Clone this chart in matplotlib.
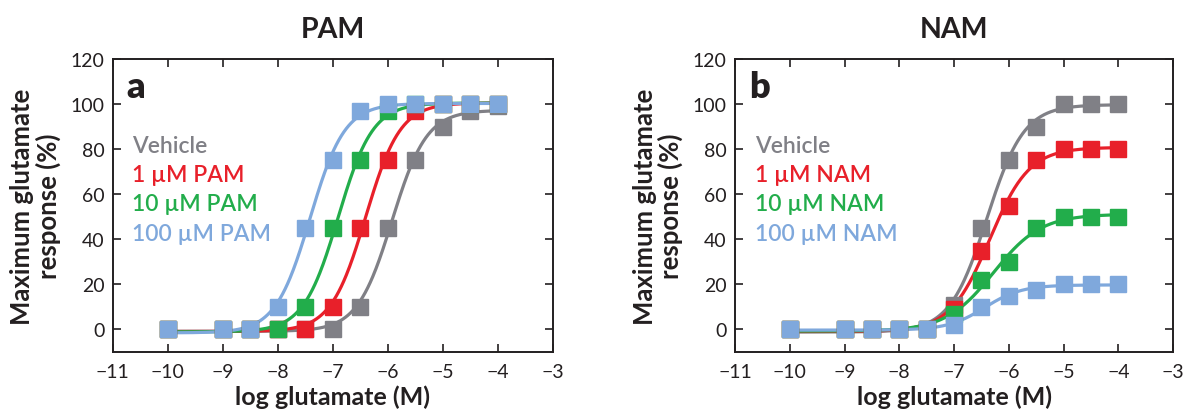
import numpy as np
import matplotlib
matplotlib.use("Agg")
import matplotlib.pyplot as plt

plt.rcParams['font.family'] = ['Lato', 'DejaVu Sans']
plt.rcParams['axes.unicode_minus'] = True

# ---------------- data ----------------
log_glu = [-10, -9, -8.5, -8, -7.5, -7, -6.5, -6, -5.5, -5, -4.5, -4]

pam_labels = ["Vehicle", "1 µM PAM", "10 µM PAM", "100 µM PAM"]
pam_vehicle = [0, 0, 0, 0, 0, 0, 10, 45, 75, 90, 97, 99]
pam_1 = [0, 0, 0, 0, 0, 10, 45, 75, 97, 100, 100, 100]
pam_10 = [0, 0, 0, 0, 10, 45, 75, 97, 100, 100, 100, 100]
pam_100 = [0, 0, 0, 10, 45, 75, 97, 100, 100, 100, 100, 100]

nam_labels = ["Vehicle", "1 µM NAM", "10 µM NAM", "100 µM NAM"]
nam_vehicle = [0, 0, 0, 0, 0, 11, 45, 75, 90, 100, 100, 100]
nam_1 = [0, 0, 0, 0, 0, 9, 35, 55, 75, 80, 80, 80]
nam_10 = [0, 0, 0, 0, 0, 7, 22, 30, 45, 50, 50, 50]
nam_100 = [0, 0, 0, 0, 0, 2, 10, 15, 17.5, 20, 20, 20]

colors = ["#808086", "#e8202a", "#22ad4b", "#7fa8dc"]
x_ticks = [-11, -10, -9, -8, -7, -6, -5, -4, -3]
y_ticks = [0, 20, 40, 60, 80, 100, 120]


def hill_fit(x, y):
    """Least-squares 4-parameter logistic fit (grid search on EC50 / slope)."""
    x = np.asarray(x, float)
    y = np.asarray(y, float)
    ec = np.arange(-9.0, -4.0, 0.01)
    nh = np.arange(0.5, 3.5, 0.02)
    best = None
    for n in nh:
        f = 1.0 / (1.0 + 10 ** ((ec[:, None] - x[None, :]) * n))
        fm = f.mean(axis=1, keepdims=True)
        ym = y.mean()
        cov = ((f - fm) * (y - ym)).sum(axis=1)
        var = ((f - fm) ** 2).sum(axis=1)
        d = cov / var
        b = ym - d * fm[:, 0]
        res = ((b[:, None] + d[:, None] * f - y) ** 2).sum(axis=1)
        i = np.argmin(res)
        if best is None or res[i] < best[0]:
            best = (res[i], ec[i], n, b[i], d[i])
    _, e, n, b, d = best
    return lambda xx: b + d / (1.0 + 10 ** ((e - xx) * n))


fig = plt.figure(figsize=(11.92, 4.14), dpi=100)
ax1 = fig.add_axes([0.0945, 0.1473, 0.3691, 0.7077])
ax2 = fig.add_axes([0.6166, 0.1473, 0.3675, 0.7077])

xs = np.linspace(-10, -4, 400)
spine_col = "#231f20"

panels = [
    (ax1, "PAM", "a", pam_labels, [pam_vehicle, pam_1, pam_10, pam_100]),
    (ax2, "NAM", "b", nam_labels, [nam_vehicle, nam_1, nam_10, nam_100]),
]

for ax, title, letter, labels, series in panels:
    for vals, col in zip(series, colors):
        fit = hill_fit(log_glu, vals)
        ax.plot(xs, fit(xs), color=col, lw=2.3, zorder=2, solid_capstyle='round')
        ax.plot(log_glu, vals, ls='none', marker='s', ms=11, color=col,
                mec=col, zorder=3)
    ax.set_xlim(-11, -3)
    ax.set_ylim(-10, 120)
    ax.set_xticks(x_ticks)
    ax.set_yticks(y_ticks)
    ax.tick_params(direction='in', top=True, right=True, length=6, width=1.2,
                   color=spine_col, labelsize=14, labelcolor=spine_col)
    ax.tick_params(axis='y', pad=6)
    ax.tick_params(axis='x', pad=8)
    for s in ax.spines.values():
        s.set_linewidth(1.4)
        s.set_color(spine_col)
    ax.set_title(title, fontsize=20.5, fontweight='bold', pad=16, color=spine_col)
    ax.set_xlabel("log glutamate (M)", fontsize=18, fontweight='bold',
                  color=spine_col, labelpad=3)
    ax.set_ylabel("Maximum glutamate\nresponse (%)", fontsize=18.5,
                  fontweight='bold', color=spine_col, labelpad=7,
                  linespacing=1.05)
    ax.text(-10.75, 103, letter, fontsize=26, fontweight='heavy',
            color=spine_col, va='baseline', ha='left')
    for i, (lab, col) in enumerate(zip(labels, colors)):
        ax.text(-10.64, 78.8 - 13 * i, lab, fontsize=16.5, fontweight='semibold',
                color=col, va='baseline', ha='left')

fig.savefig("out.png", dpi=100)
